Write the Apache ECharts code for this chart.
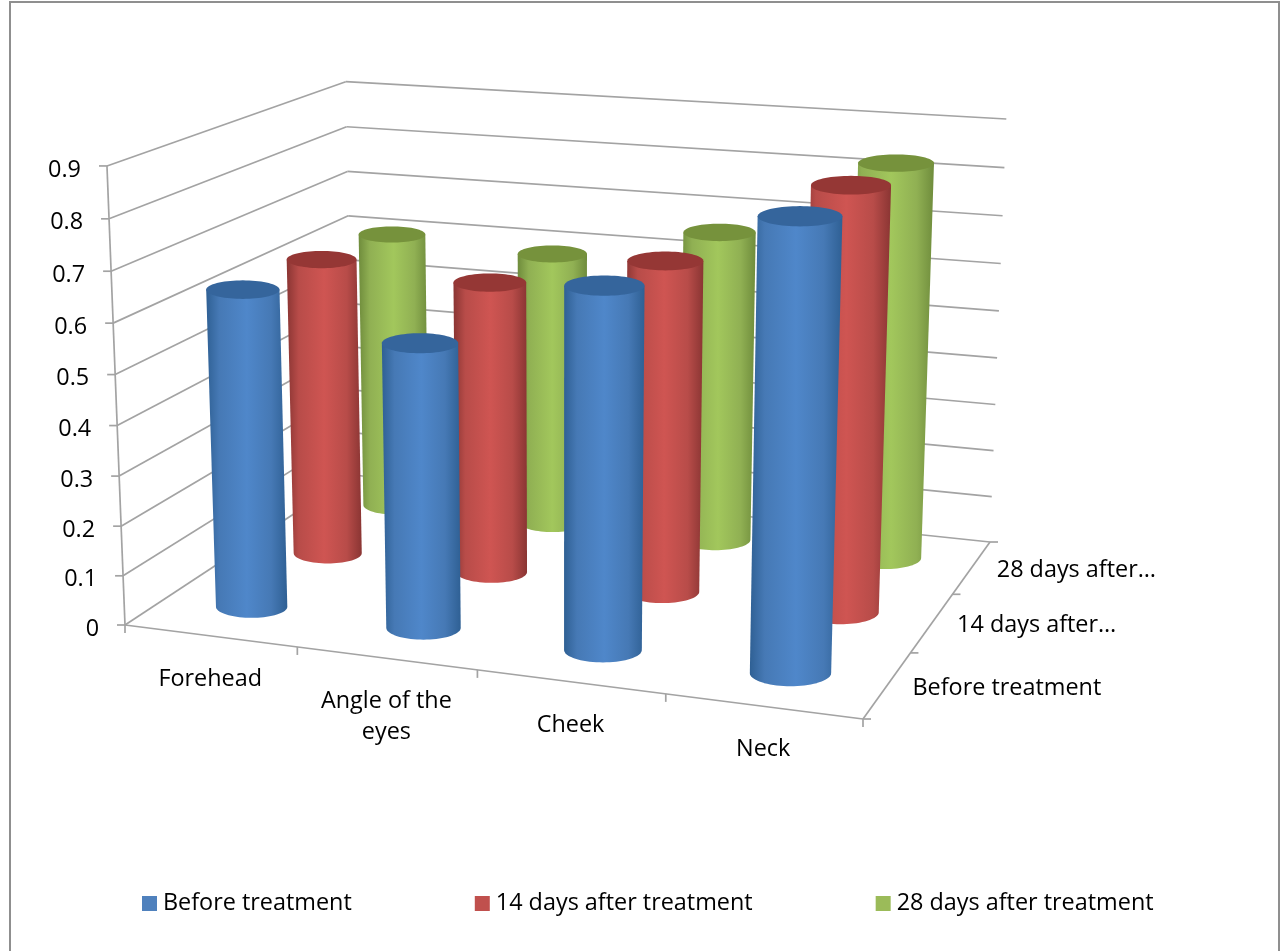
<!DOCTYPE html>
<html>
<head>
<meta charset="utf-8">
<style>html,body{margin:0;padding:0;background:#fff}#chart{width:1286px;height:951px}</style>
<script src="https://cdn.jsdelivr.net/npm/echarts@6/dist/echarts.min.js"></script>
</head>
<body>
<div id="chart"></div>
<script>
// Chart data
const categories = ['Forehead', 'Angle of the\neyes', 'Cheek', 'Neck'];
const depthLabels = ['Before treatment', '14 days after\u2026', '28 days after\u2026'];
const seriesNames = ['Before treatment', '14 days after treatment', '28 days after treatment'];
const beforeTreatment = [0.64, 0.565, 0.704, 0.858];
const after14Days = [0.625, 0.605, 0.676, 0.849];
const after28Days = [0.606, 0.59, 0.662, 0.829];
const valueTicks = [0, 0.1, 0.2, 0.3, 0.4, 0.5, 0.6, 0.7, 0.8, 0.9];

// Series palette: flat, side shade, lit centre, cap
const palettes = [
  { flat: '#4679b5', edge: '#2f6094', mid: '#4f87ca', cap: '#35659c' },
  { flat: '#b84c49', edge: '#8a3533', mid: '#cf5552', cap: '#953735' },
  { flat: '#90b053', edge: '#6f8c3c', mid: '#a2c75c', cap: '#76923C' }
];

// Camera: image positions of the floor corners (front-left, front-right,
// back-right, back-left) plus the vanishing point of the vertical edges.
const floorQuad = [[125, 625], [863, 719], [990, 542], [353, 475]];
const verticalVanish = [560, 11700];
const verticalGain = -0.0398;
// Cylinder footprint and how far the ellipses open with distance down the page
const radiusU = 0.053;
const openBase = 0.198, openSlope = 0.00019;

function quadMatrix(q) {
  const [x0, y0] = q[0], [x1, y1] = q[1], [x2, y2] = q[2], [x3, y3] = q[3];
  const dx1 = x1 - x2, dx2 = x3 - x2, sx = x0 - x1 + x2 - x3;
  const dy1 = y1 - y2, dy2 = y3 - y2, sy = y0 - y1 + y2 - y3;
  const det = dx1 * dy2 - dx2 * dy1;
  const g = (sx * dy2 - dx2 * sy) / det, h = (dx1 * sy - sx * dy1) / det;
  return [x1 - x0 + g * x1, x3 - x0 + h * x3, x0, y1 - y0 + g * y1, y3 - y0 + h * y3, y0, g, h, 1];
}
const floorM = quadMatrix(floorQuad);
// u runs along the categories, v into the depth, w up the value axis (all 0..1)
function project(u, v, w) {
  const m = floorM, k = w * verticalGain;
  const W = m[6] * u + m[7] * v + m[8] + k;
  return [
    (m[0] * u + m[1] * v + m[2] + k * verticalVanish[0]) / W,
    (m[3] * u + m[4] * v + m[5] + k * verticalVanish[1]) / W
  ];
}
const yMax = valueTicks[valueTicks.length - 1];

const lineStyle = { stroke: '#a3a3a3', lineWidth: 1.7 };
const textBase = { fill: '#000', fontFamily: 'Open Sans', fontSize: 23.4 };
function seg(a, b, style) {
  return { type: 'line', shape: { x1: a[0], y1: a[1], x2: b[0], y2: b[1] }, style: style || lineStyle };
}
function label(text, x, y, align, vAlign) {
  return { type: 'text', style: Object.assign({}, textBase, { text, x, y, align, verticalAlign: vAlign || 'middle', lineHeight: 31 }) };
}

// Walls, axes, ticks and labels
function renderFrame(params, api) {
  const kids = [];
  valueTicks.forEach(t => {
    const w = t / yMax;
    const a = project(0, 0, w), b = project(0, 1, w), c = project(1, 1, w);
    kids.push(seg(a, b), seg(b, c));
    kids.push(seg([a[0] - 8, a[1]], a));
    kids.push(label(String(t), a[0] - 26, a[1] + 4, 'right'));
  });
  kids.push(seg(project(0, 0, 0), project(0, 0, 1)));
  kids.push(seg(project(0, 0, 0), project(1, 0, 0)));
  kids.push(seg(project(1, 0, 0), project(1, 1, 0)));
  for (let i = 0; i <= categories.length; i++) {
    const p = project(i / categories.length, 0, 0);
    kids.push(seg(p, [p[0], p[1] + 8]));
  }
  for (let j = 0; j <= depthLabels.length; j++) {
    const p = project(1, j / depthLabels.length, 0);
    kids.push(seg(p, [p[0] + 8, p[1]]));
  }
  categories.forEach((c, i) => {
    const p = project((i + 0.5) / categories.length, 0, 0);
    kids.push(label(c, p[0], p[1] + 28, 'center', 'top'));
  });
  depthLabels.forEach((d, j) => {
    const p = project(1, (j + 0.5) / depthLabels.length, 0);
    kids.push(label(d, p[0] + 25, p[1] + 3, 'left'));
  });
  return { type: 'group', children: kids };
}

// One cylinder: position and value go through the cartesian axes, then into the scene
function renderCylinder(params, api) {
  const cs = params.coordSys;
  const pt = api.coord([api.value(0), api.value(1)]);
  const u = (pt[0] - cs.x) / cs.width;
  const w = (cs.y + cs.height - pt[1]) / cs.height;
  const v = (params.seriesIndex - 1 + 0.5) / depthLabels.length;
  const pal = palettes[params.seriesIndex - 1];
  const ring = h => {
    const c = project(u, v, h);
    const rx = (project(u + radiusU, v, h)[0] - project(u - radiusU, v, h)[0]) / 2;
    const ry = rx * (openBase + openSlope * c[1]);
    const out = [];
    for (let k = 0; k < 72; k++) {
      const a = k / 72 * Math.PI * 2;
      out.push([c[0] + rx * Math.cos(a), c[1] + ry * Math.sin(a)]);
    }
    return out;
  };
  const top = ring(w), base = ring(0);
  // Outline: left side of the cap, down to the base, round its front half, back up
  const frontArc = base.slice(0, 37).reverse();
  const body = [top[36]].concat(frontArc, [top[0]]);
  const fill = new echarts.graphic.LinearGradient(0, 0, 1, 0, [
    { offset: 0, color: pal.edge },
    { offset: 0.16, color: pal.flat },
    { offset: 0.5, color: pal.mid },
    { offset: 0.8, color: pal.flat },
    { offset: 1, color: pal.edge }
  ]);
  return {
    type: 'group',
    children: [
      { type: 'polygon', shape: { points: body }, style: { fill } },
      { type: 'polygon', shape: { points: top }, style: { fill: pal.cap } }
    ]
  };
}

const chart = echarts.init(document.getElementById('chart'));
const valueSets = [beforeTreatment, after14Days, after28Days];
const cylinderSeries = seriesNames.map((name, j) => ({
  name,
  type: 'custom',
  coordinateSystem: 'cartesian2d',
  z: 5 - j,
  itemStyle: { color: ['#4F81BD', '#C0504D', '#9BBB59'][j] },
  encode: { x: 0, y: 1 },
  data: valueSets[j].map((val, i) => [(i + 0.5) / categories.length, val]),
  renderItem: renderCylinder
}));

chart.setOption({
  animation: false,
  backgroundColor: '#fff',
  // The cartesian grid is the value scale only; the scene is drawn from its output.
  grid: { left: 100, right: 100, top: 100, bottom: 100 },
  xAxis: { type: 'value', min: 0, max: 1, show: false },
  yAxis: { type: 'value', min: 0, max: yMax, interval: 0.1, show: false },
  legend: {
    data: seriesNames,
    left: 142,
    top: 892,
    padding: 0,
    icon: 'rect',
    itemWidth: 15,
    itemHeight: 15,
    itemGap: 123,
    textStyle: { fontFamily: 'Open Sans', fontSize: 23.4, color: '#000', padding: [0, 0, 0, 1] },
    selectedMode: false
  },
  graphic: [{
    type: 'rect',
    silent: true,
    shape: { x: 10, y: 2, width: 1269, height: 1000 },
    style: { fill: 'none', stroke: '#8f8f8f', lineWidth: 2 }
  }],
  series: [{
    name: 'frame',
    type: 'custom',
    coordinateSystem: 'cartesian2d',
    z: 1,
    silent: true,
    data: [[0, 0]],
    renderItem: renderFrame
  }].concat(cylinderSeries)
});
</script>
</body>
</html>
